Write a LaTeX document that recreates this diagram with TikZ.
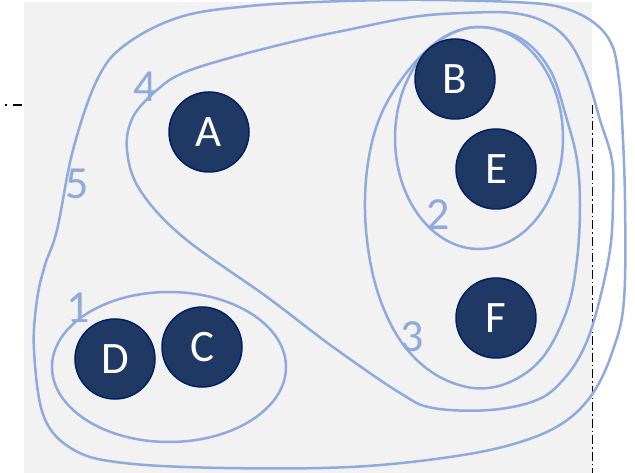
\documentclass[tikz,border=0pt]{standalone}
\usepackage{fontspec}
\setmainfont{Carlito}
\definecolor{bggray}{HTML}{F2F2F2}
\definecolor{navy}{HTML}{1F3864}
\definecolor{navyedge}{HTML}{002060}
\definecolor{setblue}{HTML}{8FAADC}
\tikzset{
  elem/.style={circle, minimum size=80pt, inner sep=0pt, fill=navy, draw=navyedge,
    line width=1.5pt, text=white, font=\fontsize{45}{45}\selectfont},
  setlabel/.style={inner sep=0pt, text=setblue, font=\fontsize{46}{46}\selectfont},
  setline/.style={draw=setblue, line width=2.5pt},
  dashdotline/.style={draw=black, line width=1.2pt}
}
\begin{document}
\begin{tikzpicture}[x=1pt,y=-1pt]
\useasboundingbox (0,0) rectangle (635,473);
\clip (0,0) rectangle (635,473);
\fill[bggray] (24,2) rectangle (592,473);
\coordinate (h1) at (5,105);
\coordinate (h2) at (23,105);
\coordinate (v1) at (592.5,105);
\coordinate (v2) at (592.5,473);
\draw[dashdotline, dash pattern=on 1.5pt off 6.5pt on 9pt off 3pt] (h1) -- (h2);
\draw[dashdotline, dash pattern=on 9pt off 3pt on 1.5pt off 3pt] (v1) -- (v2);

% set 1
\draw[setline] (169,367) ellipse [x radius=117, y radius=75];
% set 2
\draw[setline] (479,138) ellipse [x radius=84, y radius=111];
% set 3
\draw[setline] plot[smooth cycle, tension=0.6] coordinates {
 (477,27) (520,38) (550,70) (567,120) (577,160) (580,205) (577,260) (567,310)
 (543,357) (510,382) (473,388) (433,373) (400,340) (377,290) (366,230) (367,170)
 (380,117) (407,72) (440,40)};
% set 4
\draw[setline] plot[smooth cycle, tension=0.6] coordinates {
 (133,117) (157,90) (183,73) (233,57) (300,40) (347,30) (413,17) (463,13)
 (513,13) (547,23) (570,43) (587,77) (600,120) (612,160) (613,200) (610,250)
 (597,310) (583,350) (563,380) (537,400) (490,410) (433,408) (400,393)
 (333,347) (267,297) (183,237) (140,190) (127,150)};
% set 5
\draw[setline] plot[smooth cycle, tension=0.6] coordinates {
 (330,1.5) (420,0) (513,2) (560,7) (593,22) (612,45) (619,80) (622,120)
 (625,200) (624,300) (613,350) (593,393) (563,423) (517,443) (450,457)
 (350,467) (224,468) (124,463) (74,450) (44,417) (34,350) (37,300) (45,265)
 (57,230) (73,150) (97,80) (125,45) (180,17) (250,6)};

\node[setlabel] (l1) at (78,308) {1};
\node[setlabel] (l2) at (438,215) {2};
\node[setlabel] (l3) at (412,337) {3};
\node[setlabel] (l4) at (145,87) {4};
\node[setlabel] (l5) at (77,184) {5};

\node[elem] (A) at (209,132) {A};
\node[elem] (B) at (455,79) {B};
\node[elem] (E) at (496,169) {E};
\node[elem] (F) at (496,318) {F};
\node[elem] (C) at (202,347) {C};
\node[elem] (D) at (115,359) {D};
\end{tikzpicture}
\end{document}
